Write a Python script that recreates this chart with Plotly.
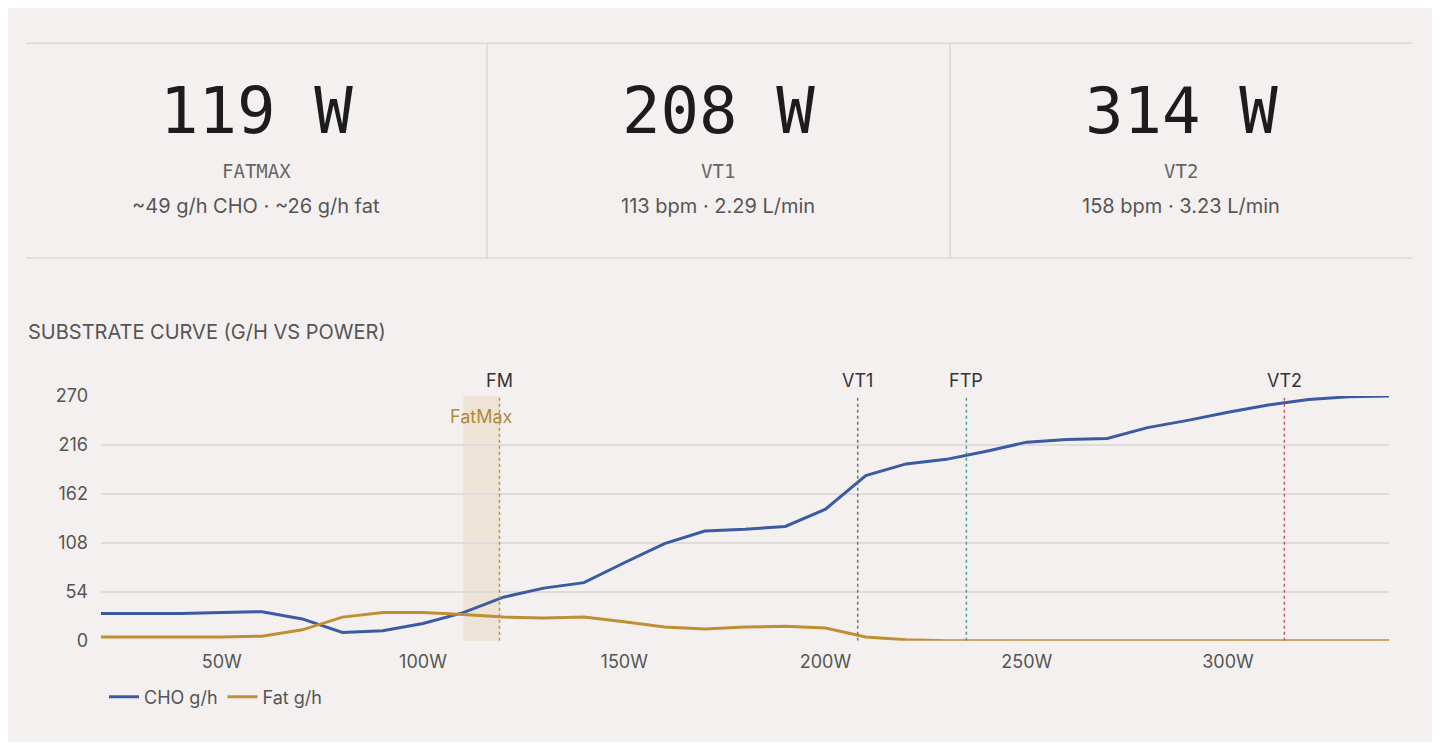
import plotly.graph_objects as go

# Power steps (W) and substrate rates (g/h)
power = [20, 30, 40, 50, 60, 70, 80, 90, 100, 110, 120, 130, 140, 150, 160, 170, 180,
         190, 200, 210, 220, 230, 240, 250, 260, 270, 280, 290, 300, 310, 320, 330, 340]
cho = [30, 30, 30, 31, 32, 24, 9, 11, 19, 31, 48, 58, 64, 86, 107, 121, 123,
       126, 145, 182, 195, 200, 209, 219, 222, 223, 235, 243, 252, 260, 266, 269, 270]
fat = [4, 4, 4, 4, 5, 12, 26, 31, 31, 29, 26, 25, 26, 21, 15, 13, 15,
       16, 14, 4, 1, 0, 0, 0, 0, 0, 0, 0, 0, 0, 0, 0, 0]

# Threshold markers
marker_names = ["FM", "VT1", "FTP", "VT2"]
marker_power = [119, 208, 235, 314]
marker_colors = ["#c08f35", "#5c7f6c", "#4f9a9c", "#c65a55"]
fatmax_band = [110, 119]

# KPI cards
kpi_values = ["119 W", "208 W", "314 W"]
kpi_labels = ["FATMAX", "VT1", "VT2"]
kpi_subs = ["~49 g/h CHO · ~26 g/h fat", "113 bpm · 2.29 L/min", "158 bpm · 3.23 L/min"]

BG = "#f4f0ef"
BLUE = "#3a5ba3"
GOLD = "#c08f35"
W, H = 1424, 734
OFF = 8  # page body margin


def px(x):
    return (x - OFF) / W


def py(y):
    return 1 - (y - OFF) / H


fig = go.Figure()
fig.add_trace(go.Scatter(x=power, y=cho, name="CHO g/h", mode="lines",
                         line=dict(color=BLUE, width=3)))
fig.add_trace(go.Scatter(x=power, y=fat, name="Fat g/h", mode="lines",
                         line=dict(color=GOLD, width=3)))

# FatMax band
fig.add_vrect(x0=fatmax_band[0], x1=fatmax_band[1], y0=0, y1=1,
              fillcolor="#e8dcc6", opacity=0.6, line_width=0, layer="below")
fig.add_annotation(x=(fatmax_band[0] + fatmax_band[1]) / 2, y=270, yshift=-21,
                   text="FatMax", showarrow=False,
                   font=dict(size=18, color="#b08a3a", family="Inter"))

for name, p, c in zip(marker_names, marker_power, marker_colors):
    fig.add_shape(type="line", x0=p, x1=p, y0=0, y1=270, xref="x", yref="y",
                  line=dict(color=c, width=1.5, dash="dot"))
    fig.add_annotation(x=p, y=270, yshift=15, text=name, showarrow=False,
                       font=dict(size=18, color="#333", family="Inter"))

# KPI card borders
line_style = dict(color="#dcd8d7", width=1.5)
for yy in [33, 254]:
    fig.add_shape(type="line", xref="paper", yref="paper", x0=px(26), x1=px(1412),
                  y0=py(yy), y1=py(yy), line=line_style)
for dx in [487, 950]:
    fig.add_shape(type="line", xref="paper", yref="paper", x0=px(dx), x1=px(dx),
                  y0=py(254), y1=py(33), line=line_style)

centers = [256, 718, 1181]
for cx, v, lab, sub in zip(centers, kpi_values, kpi_labels, kpi_subs):
    fig.add_annotation(xref="paper", yref="paper", x=px(cx), y=py(103), text=v,
                       xanchor="center", yanchor="middle", showarrow=False,
                       font=dict(size=64, color="#1c1c1c", family="DejaVu Sans Mono"))
    fig.add_annotation(xref="paper", yref="paper", x=px(cx), y=py(164), text=lab,
                       xanchor="center", yanchor="middle", showarrow=False,
                       font=dict(size=19, color="#666", family="DejaVu Sans Mono"))
    fig.add_annotation(xref="paper", yref="paper", x=px(cx), y=py(201), text=sub,
                       xanchor="center", yanchor="middle", showarrow=False,
                       font=dict(size=20, color="#555", family="Inter"))

fig.add_annotation(xref="paper", yref="paper", x=px(26), y=py(330), xanchor="left",
                   yanchor="middle", text="SUBSTRATE CURVE (G/H VS POWER)", showarrow=False,
                   font=dict(size=20, color="#555", family="Inter"))

fig.update_layout(
    width=W, height=H, paper_bgcolor=BG, plot_bgcolor=BG,
    margin=dict(l=0, r=0, t=0, b=0),
    font=dict(family="Inter", color="#555", size=18),
    showlegend=True,
    legend=dict(orientation="h", x=px(104), y=py(706), yanchor="middle",
                xanchor="left", bgcolor="rgba(0,0,0,0)", font=dict(size=18, color="#555")),
    xaxis=dict(domain=[px(101), px(1389)], range=[20, 340], tickvals=[50, 100, 150, 200, 250, 300],
               ticktext=["50W", "100W", "150W", "200W", "250W", "300W"], showgrid=False,
               zeroline=False, showline=False, ticks="", ticklabelstandoff=8,
               tickfont=dict(size=18, color="#555")),
    yaxis=dict(domain=[py(648), py(396)], range=[0, 270],
               tickvals=[0, 54, 108, 162, 216, 270], gridcolor="#e0dcdb", gridwidth=1.5,
               zeroline=False, showline=False, ticks="", ticklabelstandoff=12,
               tickfont=dict(size=18, color="#555")),
)

fig.write_html("out.html")
